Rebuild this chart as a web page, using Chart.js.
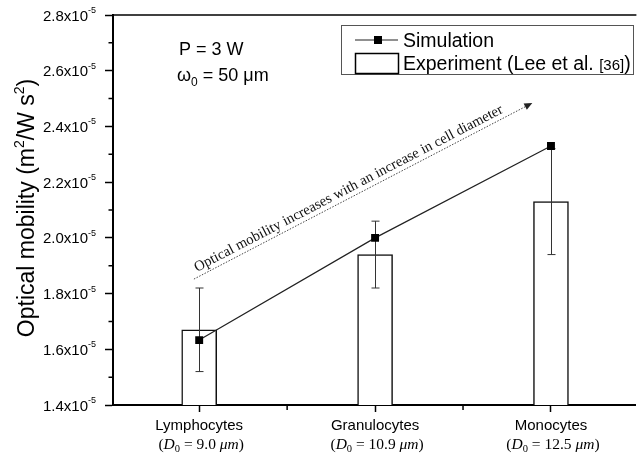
<!DOCTYPE html>
<html>
<head>
<meta charset="utf-8">
<script src="https://cdn.jsdelivr.net/npm/chart.js@4.4.0/dist/chart.umd.min.js"></script>
<style>
    html, body { margin: 0; padding: 0; background: #fff; overflow: hidden; }
</style>
</head>
<body>
<canvas id="mobilityChart" width="641" height="457"></canvas>
<script>
// Cell types and measured/simulated optical mobility (units of 1e-5 m^2/W s^2)
const cellTypes = ['Lymphocytes', 'Granulocytes', 'Monocytes'];
const cellDiameters = ['9.0', '10.9', '12.5'];
const experimentValues = [1.67, 1.94, 2.13];
const experimentErrors = [0.15, 0.12, 0.19];
const simulationValues = [1.633, 2.00, 2.33];
const yTicks = [1.4, 1.6, 1.8, 2.0, 2.2, 2.4, 2.6, 2.8];
const yMinorTicks = [1.5, 1.7, 1.9, 2.1, 2.3, 2.5, 2.7];
const xMinorTicks = [0.5, 1.5];

const SANS = '"Liberation Sans", Arial, sans-serif';
const SERIF = '"Liberation Serif", "Times New Roman", serif';

// trend arrow, in data units
const arrowFrom = { x: -0.03, y: 1.852 };
const arrowTo = { x: 1.894, y: 2.484 };
const arrowText = 'Optical mobility increases with an increase in cell diameter';

// draw a run of text pieces with different fonts / offsets
function drawRuns(ctx, runs, x, y, align) {
    let total = 0;
    runs.forEach(r => {
        ctx.font = r.font;
        r.w = ctx.measureText(r.text).width;
        total += r.w;
    });
    let cx = x;
    if (align === 'center') cx = x - total / 2;
    if (align === 'right') cx = x - total;
    ctx.textAlign = 'left';
    ctx.textBaseline = 'alphabetic';
    runs.forEach(r => {
        ctx.font = r.font;
        ctx.fillText(r.text, cx, y + (r.dy || 0));
        cx += r.w;
    });
    return total;
}

const decorations = {
    id: 'decorations',
    afterDatasetDraw(chart, args) {
        if (args.index !== 0) return;
        // error bars on the experiment bars
        const ctx = chart.ctx;
        const xs = chart.scales.x, ys = chart.scales.y;
        ctx.save();
        ctx.strokeStyle = '#333';
        ctx.lineWidth = 1;
        experimentValues.forEach((v, i) => {
            const px = Math.round(xs.getPixelForValue(i)) + 0.5;
            const top = ys.getPixelForValue(v + experimentErrors[i]);
            const bot = ys.getPixelForValue(v - experimentErrors[i]);
            ctx.beginPath();
            ctx.moveTo(px, top); ctx.lineTo(px, bot);
            ctx.moveTo(px - 4, top); ctx.lineTo(px + 4, top);
            ctx.moveTo(px - 4, bot); ctx.lineTo(px + 4, bot);
            ctx.stroke();
        });
        ctx.restore();
    },
    afterDraw(chart) {
        const ctx = chart.ctx;
        const area = chart.chartArea;
        const xs = chart.scales.x, ys = chart.scales.y;
        ctx.save();
        ctx.fillStyle = '#000';
        ctx.strokeStyle = '#000';

        // top frame line
        ctx.lineWidth = 1.5;
        ctx.beginPath();
        ctx.moveTo(area.left, area.top);
        ctx.lineTo(area.right + 1, area.top);
        ctx.stroke();

        // minor ticks
        ctx.lineWidth = 1.5;
        ctx.beginPath();
        yMinorTicks.forEach(v => {
            const py = ys.getPixelForValue(v);
            ctx.moveTo(area.left - 4.5, py); ctx.lineTo(area.left, py);
        });
        xMinorTicks.forEach(v => {
            const px = xs.getPixelForValue(v);
            ctx.moveTo(px, area.bottom); ctx.lineTo(px, area.bottom + 5);
        });
        ctx.stroke();

        // y tick labels with exponent
        yTicks.forEach(v => {
            const py = ys.getPixelForValue(v);
            drawRuns(ctx, [
                { text: v.toFixed(1) + 'x10', font: '15px ' + SANS, dy: 5.5 },
                { text: '-5', font: '9px ' + SANS, dy: -2 }
            ], 96, py, 'right');
        });

        // y axis title
        ctx.save();
        ctx.translate(34, 208);
        ctx.rotate(-Math.PI / 2);
        drawRuns(ctx, [
            { text: 'Optical mobility (m', font: '23px ' + SANS },
            { text: '2', font: '14px ' + SANS, dy: -10 },
            { text: '/W s', font: '23px ' + SANS },
            { text: '2', font: '14px ' + SANS, dy: -10 },
            { text: ')', font: '23px ' + SANS }
        ], 0, 0, 'center');
        ctx.restore();

        // diameter line under each category
        cellDiameters.forEach((d, i) => {
            const px = xs.getPixelForValue(i) + 2;
            drawRuns(ctx, [
                { text: '(', font: '15.5px ' + SERIF },
                { text: 'D', font: 'italic 15.5px ' + SERIF },
                { text: '0', font: '10.5px ' + SERIF, dy: 3 },
                { text: ' = ' + d + ' ', font: '15.5px ' + SERIF },
                { text: 'μm', font: 'italic 15.5px ' + SERIF },
                { text: ')', font: '15.5px ' + SERIF }
            ], px, 449, 'center');
        });

        // conditions
        drawRuns(ctx, [{ text: 'P = 3 W', font: '18px ' + SANS }], 179, 55, 'left');
        drawRuns(ctx, [
            { text: 'ω', font: '18px ' + SANS },
            { text: '0', font: '12px ' + SANS, dy: 5 },
            { text: ' = 50 μm', font: '18px ' + SANS }
        ], 177, 81, 'left');

        // legend
        ctx.strokeStyle = '#555';
        ctx.lineWidth = 1;
        ctx.strokeRect(341.5, 25.5, 292, 49);
        ctx.strokeStyle = '#222';
        ctx.lineWidth = 1.2;
        ctx.beginPath();
        ctx.moveTo(355, 40); ctx.lineTo(398, 40);
        ctx.stroke();
        ctx.fillRect(374, 36, 8, 8);
        ctx.strokeStyle = '#000';
        ctx.lineWidth = 1.5;
        ctx.strokeRect(355.5, 53.5, 43, 20);
        drawRuns(ctx, [{ text: 'Simulation', font: '19.5px ' + SANS }], 403, 47, 'left');
        drawRuns(ctx, [
            { text: 'Experiment (Lee et al. ', font: '19.5px ' + SANS },
            { text: '[36]', font: '15px ' + SANS },
            { text: ')', font: '19.5px ' + SANS }
        ], 403, 70, 'left');

        // trend arrow with label
        const x0 = xs.getPixelForValue(arrowFrom.x), y0 = ys.getPixelForValue(arrowFrom.y);
        const x1 = xs.getPixelForValue(arrowTo.x), y1 = ys.getPixelForValue(arrowTo.y);
        const ang = Math.atan2(y1 - y0, x1 - x0);
        ctx.strokeStyle = '#444';
        ctx.lineWidth = 1;
        ctx.setLineDash([1.5, 1.5]);
        ctx.beginPath();
        ctx.moveTo(x0, y0);
        ctx.lineTo(x1 - 6 * Math.cos(ang), y1 - 6 * Math.sin(ang));
        ctx.stroke();
        ctx.setLineDash([]);
        ctx.save();
        ctx.translate(x1, y1);
        ctx.rotate(ang);
        ctx.fillStyle = '#222';
        ctx.beginPath();
        ctx.moveTo(0, 0); ctx.lineTo(-8, -3.5); ctx.lineTo(-8, 3.5);
        ctx.closePath();
        ctx.fill();
        ctx.restore();

        ctx.save();
        ctx.translate(x0, y0);
        ctx.rotate(ang);
        ctx.fillStyle = '#111';
        drawRuns(ctx, [{ text: arrowText, font: '14.6px ' + SERIF }], 6, -5, 'left');
        ctx.restore();

        ctx.restore();
    }
};

const ctx = document.getElementById('mobilityChart').getContext('2d');
new Chart(ctx, {
    data: {
        datasets: [
            {
                type: 'bar',
                label: 'Experiment (Lee et al. [36])',
                data: cellTypes.map((c, i) => ({ x: i, y: experimentValues[i] })),
                backgroundColor: '#fff',
                borderColor: '#111',
                borderWidth: 1.5,
                barThickness: 35,
                order: 2
            },
            {
                type: 'line',
                label: 'Simulation',
                data: cellTypes.map((c, i) => ({ x: i, y: simulationValues[i] })),
                borderColor: '#222',
                borderWidth: 1.2,
                tension: 0,
                pointStyle: 'rect',
                pointRadius: 5.6,
                pointBorderWidth: 0,
                pointBackgroundColor: '#000',
                order: 1
            }
        ]
    },
    options: {
        responsive: false,
        animation: false,
        layout: { padding: { left: 0, top: 15, right: 1, bottom: 0 } },
        plugins: {
            legend: { display: false },
            tooltip: { enabled: false }
        },
        scales: {
            x: {
                type: 'linear',
                min: -0.49,
                max: 2.48,
                offset: false,
                afterBuildTicks: s => { s.ticks = cellTypes.map((c, i) => ({ value: i })); },
                afterFit: s => { s.height = 52; },
                ticks: {
                    callback: v => cellTypes[v],
                    font: { family: SANS, size: 15 },
                    color: '#000',
                    padding: 5,
                    maxRotation: 0,
                    autoSkip: false
                },
                grid: { offset: false, drawOnChartArea: false, tickLength: 7, tickColor: '#000', tickWidth: 1.5 },
                border: { color: '#000', width: 2 }
            },
            y: {
                min: 1.4,
                max: 2.8,
                afterBuildTicks: s => { s.ticks = yTicks.map(v => ({ value: v })); },
                afterFit: s => { s.width = 113; },
                ticks: { display: false },
                grid: { drawOnChartArea: false, tickLength: 8, tickColor: '#000', tickWidth: 1.5 },
                border: { color: '#000', width: 2 }
            }
        }
    },
    plugins: [decorations]
});
</script>
</body>
</html>
